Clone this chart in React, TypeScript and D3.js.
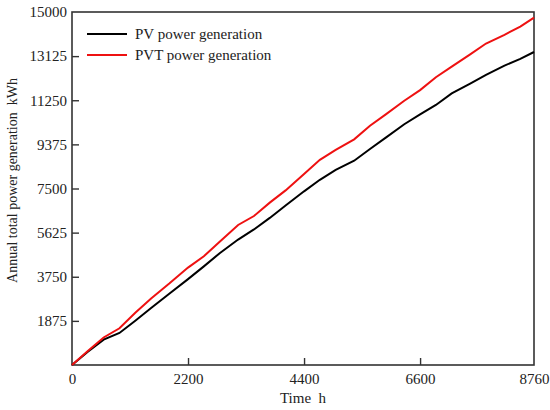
import { useEffect, useRef } from 'react'
import * as d3 from 'd3'

const hours = [0, 300, 600, 900, 1200, 1500, 1850, 2200, 2500, 2800, 3150, 3450, 3750, 4050, 4400, 4700, 5000, 5350, 5650, 5950, 6300, 6600, 6900, 7200, 7550, 7850, 8200, 8500, 8760]
const pvGeneration = [0, 560, 1080, 1360, 1880, 2420, 3040, 3650, 4190, 4750, 5330, 5760, 6250, 6780, 7380, 7870, 8290, 8680, 9180, 9660, 10230, 10650, 11050, 11540, 11960, 12330, 12720, 13010, 13300]
const pvtGeneration = [0, 600, 1170, 1560, 2220, 2830, 3470, 4140, 4620, 5240, 5950, 6330, 6900, 7420, 8120, 8720, 9140, 9590, 10170, 10650, 11230, 11680, 12230, 12680, 13200, 13660, 14030, 14380, 14760]
const xTicks = [0, 2200, 4400, 6600, 8760]
const yTicks = [1875, 3750, 5625, 7500, 9375, 11250, 13125, 15000]

const series = [
  { name: 'PV power generation', values: pvGeneration, color: '#000000' },
  { name: 'PVT power generation', values: pvtGeneration, color: '#ee1111' },
]

export default function App() {
  const ref = useRef<SVGSVGElement>(null)

  useEffect(() => {
    if (!ref.current) return
    const svg = d3.select(ref.current)
    svg.selectAll('*').remove()

    const margin = { top: 12, right: 16, bottom: 45, left: 72 }
    const width = 550 - margin.left - margin.right
    const height = 410 - margin.top - margin.bottom
    const font = '"Liberation Serif", "Times New Roman", serif'

    const g = svg.append('g').attr('transform', `translate(${margin.left},${margin.top})`)

    const x = d3.scaleLinear().domain([0, 8760]).range([0, width])
    const y = d3.scaleLinear().domain([0, 15000]).range([height, 0])

    // frame
    g.append('rect')
      .attr('width', width)
      .attr('height', height)
      .attr('fill', 'none')
      .attr('stroke', '#333')
      .attr('stroke-width', 1.6)

    // x axis, ticks pointing inward
    const xAxis = g
      .append('g')
      .attr('transform', `translate(0,${height})`)
      .call(d3.axisBottom(x).tickValues(xTicks).tickSize(-7).tickPadding(8).tickFormat(d3.format('d')))
    xAxis.select('.domain').remove()
    xAxis.selectAll('line').attr('stroke', '#333').attr('stroke-width', 1.4)
    xAxis.selectAll('text').style('font-family', font).style('font-size', '15px').attr('fill', '#222')
    xAxis.selectAll('.tick').filter((d) => d === 0 || d === 8760).select('line').remove()

    // y axis, ticks pointing inward
    const yAxis = g
      .append('g')
      .call(d3.axisLeft(y).tickValues(yTicks).tickSize(-7).tickPadding(5).tickFormat(d3.format('d')))
    yAxis.select('.domain').remove()
    yAxis.selectAll('line').attr('stroke', '#333').attr('stroke-width', 1.4)
    yAxis.selectAll('text').style('font-family', font).style('font-size', '15px').attr('fill', '#222')
    yAxis.selectAll('.tick').filter((d) => d === 15000).select('line').remove()

    // lines
    const line = d3
      .line<number>()
      .x((_, i) => x(hours[i]))
      .y((d) => y(d))

    series.forEach((s) => {
      g.append('path')
        .datum(s.values)
        .attr('fill', 'none')
        .attr('stroke', s.color)
        .attr('stroke-width', 2)
        .attr('d', line)
    })

    // legend
    const legend = g.append('g').attr('transform', 'translate(15,22)')
    series.forEach((s, i) => {
      const row = legend.append('g').attr('transform', `translate(0,${i * 21})`)
      row.append('line').attr('x1', 0).attr('x2', 40).attr('stroke', s.color).attr('stroke-width', 2)
      row.append('text')
        .attr('x', 48)
        .attr('dy', '0.33em')
        .style('font-family', font)
        .style('font-size', '15px')
        .attr('fill', '#222')
        .text(s.name)
    })

    // axis labels
    g.append('text')
      .attr('x', width / 2)
      .attr('y', height + 38)
      .attr('text-anchor', 'middle')
      .style('font-family', font)
      .style('font-size', '15px')
      .style('white-space', 'pre')
      .attr('fill', '#222')
      .text('Time  h')

    g.append('text')
      .attr('transform', 'rotate(-90)')
      .attr('x', -(height / 2) + 8)
      .attr('y', -55)
      .attr('text-anchor', 'middle')
      .style('font-family', font)
      .style('font-size', '14px')
      .style('white-space', 'pre')
      .attr('fill', '#222')
      .text('Annual total power generation  kWh')
  }, [])

  return (
    <svg
      ref={ref}
      width={550}
      height={410}
      style={{ position: 'absolute', top: 0, left: 0, background: '#fff' }}
    />
  )
}
